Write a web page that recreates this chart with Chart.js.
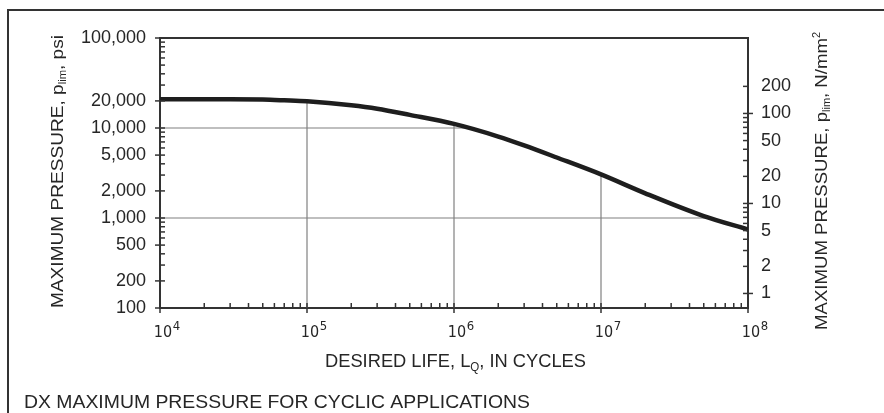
<!DOCTYPE html>
<html><head><meta charset="utf-8">
<script src="https://cdn.jsdelivr.net/npm/chart.js@4.4.1/dist/chart.umd.min.js"></script>
<style>html,body{margin:0;padding:0;background:#fff;}#wrap{position:relative;width:884px;height:413px;}</style>
</head><body><div id="wrap"><canvas id="c" width="884" height="413"></canvas></div>
<script>
// ---- data ----
const lifeCycles     = [1e4, 2e4, 3e4, 5e4, 7e4, 1e5, 2e5, 3e5, 5e5, 1e6, 2e6, 3e6, 5e6, 1e7, 2e7, 5e7, 1e8];
const maxPressurePsi = [20800, 20900, 20900, 20700, 20300, 19800, 17900, 16400, 14000, 11100, 8040, 6410, 4700, 3050, 1880, 1050, 745];
const xTickValues   = [1e4, 1e5, 1e6, 1e7, 1e8];
const xTickBase     = ['10', '10', '10', '10', '10'];
const xTickExponent = ['4', '5', '6', '7', '8'];
const psiTickValues = [100, 200, 500, 1000, 2000, 5000, 10000, 20000, 100000];
const psiTickLabels = ['100', '200', '500', '1,000', '2,000', '5,000', '10,000', '20,000', '100,000'];
const nmmTickValues = [1, 2, 5, 10, 20, 50, 100, 200];
const nmmTickLabels = ['1', '2', '5', '10', '20', '50', '100', '200'];
const nmmCrossTicks = [1, 10, 100];
const gridLifeValues = [1e5, 1e6, 1e7];
const gridPsiValues  = [10000, 1000];
const PSI_TO_NMM = 0.00689476;
const lifeMin = 1e4, lifeMax = 1e8, psiMin = 100, psiMax = 100000;

// ---- helpers (log interpolation along the read curve) ----
const L = Math.log10;
function curveAt(x){
  for (let i = 0; i < lifeCycles.length - 1; i++){
    if (x >= lifeCycles[i] && x <= lifeCycles[i+1]){
      const t = (L(x) - L(lifeCycles[i])) / (L(lifeCycles[i+1]) - L(lifeCycles[i]));
      return Math.pow(10, L(maxPressurePsi[i]) + t * (L(maxPressurePsi[i+1]) - L(maxPressurePsi[i])));
    }
  }
  return maxPressurePsi[maxPressurePsi.length-1];
}
function crossAt(p){
  for (let i = 0; i < lifeCycles.length - 1; i++){
    const a = maxPressurePsi[i], b = maxPressurePsi[i+1];
    if (p <= a && p >= b && a !== b){
      const t = (L(a) - L(p)) / (L(a) - L(b));
      return Math.pow(10, L(lifeCycles[i]) + t * (L(lifeCycles[i+1]) - L(lifeCycles[i])));
    }
  }
  return lifeMax;
}

const datasets = [{
  data: lifeCycles.map((x, i) => ({x: x, y: maxPressurePsi[i]})),
  borderColor: '#1e1e1e', borderWidth: 4.5, pointRadius: 0,
  cubicInterpolationMode: 'monotone', fill: false
}];
gridLifeValues.forEach(v => datasets.push({
  data: [{x: v, y: psiMin}, {x: v, y: curveAt(v)}],
  borderColor: '#808080', borderWidth: 1.2, pointRadius: 0, fill: false
}));
gridPsiValues.forEach(p => datasets.push({
  data: [{x: lifeMin, y: p}, {x: crossAt(p), y: p}],
  borderColor: '#808080', borderWidth: 1.2, pointRadius: 0, fill: false
}));

const TXT = '#262626';
const NARROW = "'Liberation Sans Narrow', 'DejaVu Sans Condensed', 'Liberation Sans', sans-serif";
const SANS = "'Liberation Sans', Arial, sans-serif";
const X_LABEL_OFFSET = 3;

function drawRich(ctx, parts, x, y, rot, target){
  let w = 0;
  parts.forEach(p => { ctx.font = p.font; p.w = ctx.measureText(p.t).width; w += p.w; });
  const s = target ? target / w : 1;
  ctx.save();
  ctx.translate(x, y); ctx.rotate(rot); ctx.scale(s, 1);
  ctx.fillStyle = TXT; ctx.textAlign = 'left'; ctx.textBaseline = 'alphabetic';
  let cx = 0;
  parts.forEach(p => { ctx.font = p.font; ctx.fillText(p.t, cx, p.dy || 0); cx += p.w; });
  ctx.restore();
}

const decor = {
  id: 'decor',
  afterDraw(chart){
    const {ctx, chartArea: a, scales} = chart;
    const xs = scales.x, ys = scales.y, y2 = scales.y2;
    ctx.save();
    ctx.strokeStyle = '#333';
    const line = (x1, y1, x2, yy2) => { ctx.beginPath(); ctx.moveTo(x1, y1); ctx.lineTo(x2, yy2); ctx.stroke(); };
    ctx.lineWidth = 2;
    line(a.left - 1, a.top, a.right + 1, a.top);
    ctx.lineWidth = 1.5;
    // left axis ticks
    for (let k = 2; k <= 5; k++) for (let m = 1; m <= 9; m++){
      const v = m * Math.pow(10, k); if (v > psiMax) break;
      const py = ys.getPixelForValue(v);
      const major = psiTickValues.includes(v);
      line(a.left - (major ? 5 : 0), py, a.left + 5, py);
    }
    // bottom axis ticks
    for (let k = 4; k <= 8; k++) for (let m = 1; m <= 9; m++){
      const v = m * Math.pow(10, k); if (v > lifeMax) break;
      const px = xs.getPixelForValue(v);
      const major = xTickValues.includes(v);
      line(px, a.bottom - 5, px, a.bottom + (major ? 5 : 0));
    }
    // right axis ticks
    for (let k = 0; k <= 2; k++) for (let m = 1; m <= 9; m++){
      const v = m * Math.pow(10, k); if (v > 200) break;
      const py = y2.getPixelForValue(v);
      const cross = nmmCrossTicks.includes(v);
      line(a.right - 5, py, a.right + (cross ? 5 : 0), py);
    }
    // outer frame
    ctx.lineWidth = 2;
    ctx.beginPath(); ctx.moveTo(8, 413); ctx.lineTo(8, 10); ctx.lineTo(884, 10); ctx.stroke();
    ctx.restore();

    // exponents of the x tick labels (10^n)
    ctx.save();
    ctx.fillStyle = TXT; ctx.textAlign = 'left'; ctx.textBaseline = 'alphabetic';
    xTickValues.forEach((v, i) => {
      ctx.font = '16px ' + NARROW;
      const w = ctx.measureText(xTickBase[i]).width;
      const px = xs.getPixelForValue(v) + X_LABEL_OFFSET + w / 2;
      ctx.font = '13px ' + NARROW;
      ctx.fillText(xTickExponent[i], px + 0.5, 329.5);
    });
    ctx.restore();

    // titles
    drawRich(ctx, [
      {t: 'MAXIMUM PRESSURE, p', font: '17px ' + SANS},
      {t: 'lim', font: '10px ' + SANS, dy: 3},
      {t: ', psi', font: '17px ' + SANS}
    ], 62.5, 308, -Math.PI / 2, 273);
    drawRich(ctx, [
      {t: 'MAXIMUM PRESSURE, p', font: '17px ' + SANS},
      {t: 'lim', font: '10px ' + SANS, dy: 3},
      {t: ', N/mm', font: '17px ' + SANS},
      {t: '2', font: '10px ' + SANS, dy: -7}
    ], 826.5, 330, -Math.PI / 2, 298);
    drawRich(ctx, [
      {t: 'DESIRED LIFE, L', font: '19px ' + SANS},
      {t: 'Q', font: '12px ' + SANS, dy: 4},
      {t: ', IN CYCLES', font: '19px ' + SANS}
    ], 325, 366.5, 0, 261);
    drawRich(ctx, [
      {t: 'DX MAXIMUM PRESSURE FOR CYCLIC APPLICATIONS', font: '19px ' + SANS}
    ], 24, 407.5, 0, 506);
  }
};

new Chart(document.getElementById('c'), {
  type: 'line',
  data: {datasets: datasets},
  options: {
    responsive: false, animation: false, parsing: true,
    layout: {padding: {top: 38, left: 0, right: 0, bottom: 0}},
    plugins: {legend: {display: false}, tooltip: {enabled: false}, title: {display: false}},
    scales: {
      x: {
        type: 'logarithmic', position: 'bottom', min: lifeMin, max: lifeMax,
        grid: {display: false, drawTicks: false},
        border: {display: true, color: '#333', width: 2},
        afterBuildTicks: s => { s.ticks = xTickValues.map(v => ({value: v, major: true})); },
        afterFit: s => { s.height = 105; },
        ticks: {
          autoSkip: false, maxRotation: 0, minRotation: 0, padding: 15, labelOffset: X_LABEL_OFFSET,
          color: TXT, font: {family: NARROW, size: 16},
          callback: (v, i) => xTickBase[i]
        }
      },
      y: {
        type: 'logarithmic', position: 'left', min: psiMin, max: psiMax,
        grid: {display: false, drawTicks: false},
        border: {display: true, color: '#333', width: 2},
        afterBuildTicks: s => { s.ticks = psiTickValues.map(v => ({value: v})); },
        afterFit: s => { s.width = 160; },
        ticks: {
          autoSkip: false, padding: 14, color: TXT, font: {family: SANS, size: 18},
          callback: (v, i) => psiTickLabels[i]
        }
      },
      y2: {
        type: 'logarithmic', position: 'right',
        min: psiMin * PSI_TO_NMM, max: psiMax * PSI_TO_NMM,
        grid: {display: false, drawTicks: false},
        border: {display: true, color: '#333', width: 2},
        afterBuildTicks: s => { s.ticks = nmmTickValues.map(v => ({value: v})); },
        afterFit: s => { s.width = 136; },
        ticks: {
          autoSkip: false, padding: 13, color: TXT, font: {family: SANS, size: 18},
          callback: (v, i) => nmmTickLabels[i]
        }
      }
    }
  },
  plugins: [decor]
});
</script>
</body></html>
